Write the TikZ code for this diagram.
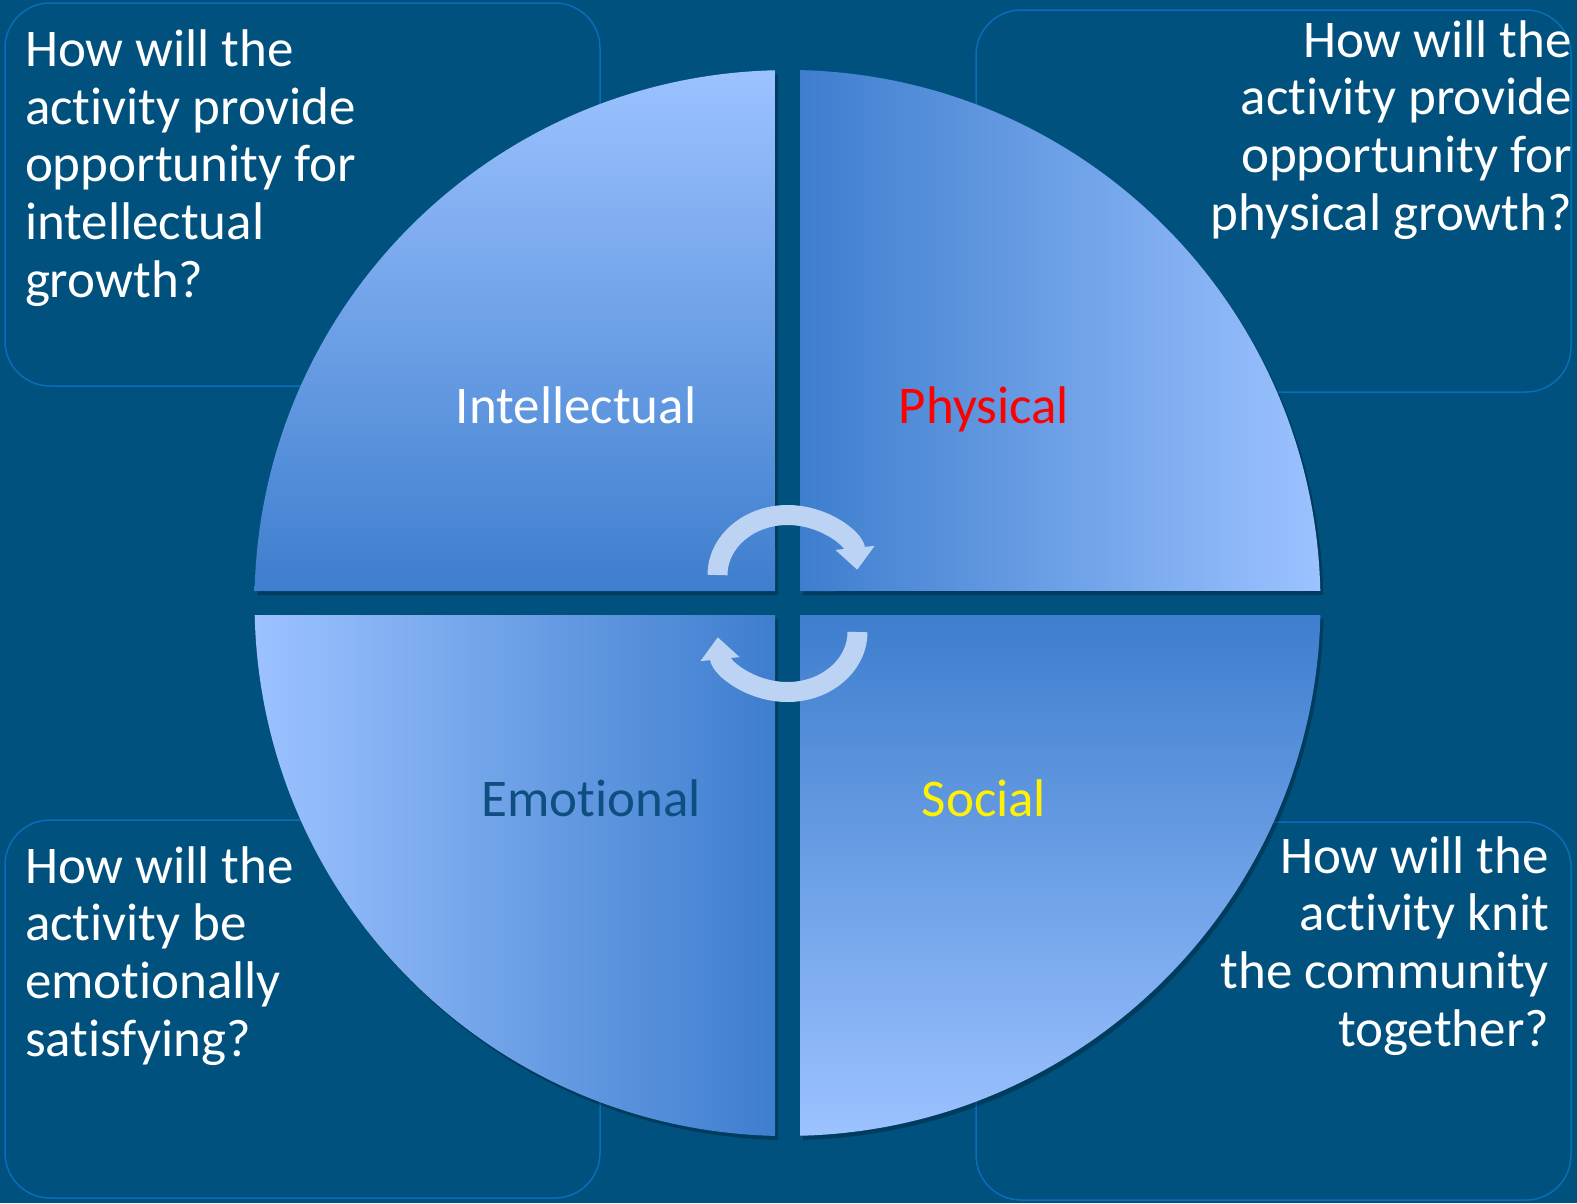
\documentclass[tikz,border=0pt]{standalone}
\usepackage{fontspec}
\setmainfont[Ligatures=NoCommon]{Carlito}
\usepackage{xcolor}
\usepackage{tikz}
\usetikzlibrary{shapes,arrows.meta,positioning,calc,shadows}

\definecolor{bgblue}{HTML}{00517E}
\definecolor{boxline}{HTML}{0A6DB8}
\definecolor{qlight}{HTML}{9CC2FF}
\definecolor{qdark}{HTML}{3E7ECE}
\definecolor{arrowc}{HTML}{BCD3F3}
\definecolor{emoblue}{HTML}{0E4F82}

\begin{document}
\begin{tikzpicture}[x=1pt,y=-1pt,every node/.style={outer sep=0pt,inner sep=0pt}]
\tikzstyle{qbox}=[draw=boxline,line width=1.5,rounded corners=45,anchor=north west]
\tikzstyle{qtext}=[text=white,font=\fontsize{53}{57.6}\selectfont]
\tikzstyle{label}=[font=\fontsize{53}{60}\selectfont,anchor=base]
\tikzstyle{quad}=[drop shadow={shadow xshift=3pt,shadow yshift=-4pt,opacity=0.25,fill=black}]
\tikzstyle{cyc}=[line width=20,draw=arrowc,-{Triangle[width=38pt,length=22pt]}]
%
\fill[bgblue] (0,0) rectangle (1577,1203);
\useasboundingbox (0,0) rectangle (1577,1203);
%
% question boxes
\node (intelbox) [qbox,minimum width=595,minimum height=383] at (5,3) {};
\node (physbox) [qbox,minimum width=595,minimum height=382] at (976,10) {};
\node (emobox) [qbox,minimum width=595,minimum height=378] at (5,820) {};
\node (socbox) [qbox,minimum width=595,minimum height=378] at (976,822) {};
% (base = last line)
\node (intelq) [qtext,align=left,anchor=base west] at (25,297)
{How will the\\activity provide\\opportunity for\\intellectual\\growth?};
\node (physq) [qtext,align=right,anchor=base east] at (1572,230)
{How will the\\activity provide\\opportunity for\\physical growth?};
\node (emoq) [qtext,align=left,anchor=base west] at (25,1056)
{How will the\\activity be\\emotionally\\satisfying?};
\node (socq) [qtext,align=right,anchor=base east] at (1549,1046)
{How will the\\activity knit\\the community\\together?};
%
% four quarters of the circle
\coordinate (C) at (787.5,603);
\shade[quad,top color=qlight,bottom color=qdark] (775,591) -- (254.6,591)
arc[start angle=181.3,end angle=268.65,radius=533] -- cycle;
\shade[quad,left color=qdark,right color=qlight] (800,591) -- (800,70.1)
arc[start angle=271.35,end angle=358.7,radius=533] -- cycle;
\shade[quad,top color=qdark,bottom color=qlight] (800,615) -- (1320.4,615)
arc[start angle=1.3,end angle=88.65,radius=533] -- cycle;
\shade[quad,left color=qlight,right color=qdark] (775,615) -- (775,1135.9)
arc[start angle=91.35,end angle=178.7,radius=533] -- cycle;
%
\node (intel) [label,text=white] at (576,423) {Intellectual};
\node (phys) [label,text=red] at (984,423) {Physical};
\node (emo) [label,text=emoblue] at (591,816) {Emotional};
\node (soc) [label,text=yellow] at (984,816) {Social};
%
% cycle arrows
\draw [cyc] (717.5,575) arc[start angle=180,end angle=355,x radius=70,y radius=60];
\draw [cyc] (857.5,632) arc[start angle=0,end angle=175,x radius=70,y radius=60];
\end{tikzpicture}
\end{document}
